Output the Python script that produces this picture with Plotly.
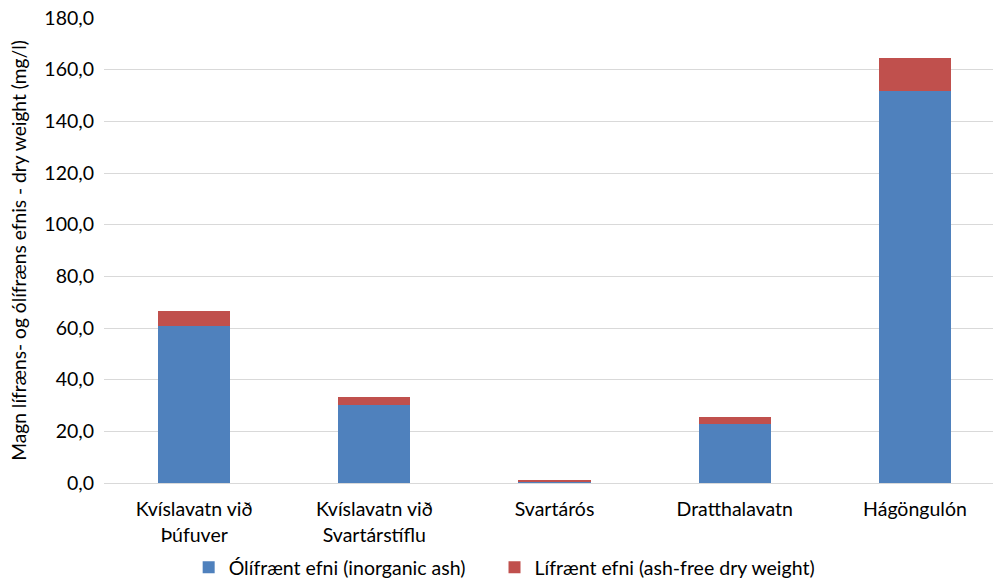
import plotly.graph_objects as go

# Sampling sites (category axis)
sites = [
    "Kvíslavatn við<br>Þúfuver",
    "Kvíslavatn við<br>Svartárstíflu",
    "Svartárós",
    "Dratthalavatn",
    "Hágöngulón",
]

# Dry weight components, mg/l
inorganic_ash = [60.8, 30.1, 0.5, 22.8, 151.9]
ash_free = [5.9, 3.3, 0.7, 2.9, 12.5]

y_ticks = [0, 20, 40, 60, 80, 100, 120, 140, 160, 180]

FONT = "Lato, Carlito, Calibri, sans-serif"
TEXT_COLOR = "#000000"

fig = go.Figure()
fig.add_trace(go.Bar(
    x=sites, y=inorganic_ash,
    name="Ólífrænt efni (inorganic ash)",
    marker=dict(color="#4F81BD", line=dict(width=0)),
    width=0.4,
    legend="legend",
))
fig.add_trace(go.Bar(
    x=sites, y=ash_free,
    name="Lífrænt efni (ash-free dry weight)",
    marker=dict(color="#C0504D", line=dict(width=0)),
    width=0.4,
    legend="legend2",
))

legend_style = dict(
    orientation="h",
    xref="container", yref="container",
    xanchor="left",
    y=0.0, yanchor="bottom",
    font=dict(family=FONT, size=19.5, color=TEXT_COLOR),
    itemwidth=30,
    bgcolor="rgba(0,0,0,0)",
)

fig.update_layout(
    barmode="stack",
    width=993, height=587,
    margin=dict(l=104, r=0, t=18, b=104),
    paper_bgcolor="white",
    plot_bgcolor="white",
    separators=",.",
    font=dict(family=FONT, size=19, color=TEXT_COLOR),
    showlegend=True,
    legend=dict(legend_style, x=0.19),
    legend2=dict(legend_style, x=0.498),
    xaxis=dict(
        type="category",
        range=[-0.5, 4.433],
        showgrid=False,
        showline=True,
        linecolor="#d9d9d9",
        linewidth=1,
        ticks="",
        ticklabelstandoff=9,
        tickangle=0,
        tickfont=dict(family=FONT, size=19.5, color=TEXT_COLOR),
    ),
    yaxis=dict(
        range=[0, 180],
        tickvals=y_ticks,
        tickformat=".1f",
        showgrid=True,
        gridcolor="#d9d9d9",
        gridwidth=1,
        zeroline=False,
        showline=False,
        ticks="",
        ticklabelstandoff=9,
        tickfont=dict(family=FONT, size=19.5, color=TEXT_COLOR),
        title=dict(
            text="Magn lífræns- og ólífræns efnis - dry weight (mg/l)",
            font=dict(family=FONT, size=19.2, color=TEXT_COLOR),
            standoff=12,
        ),
    ),
)

fig.write_html("out.html")
